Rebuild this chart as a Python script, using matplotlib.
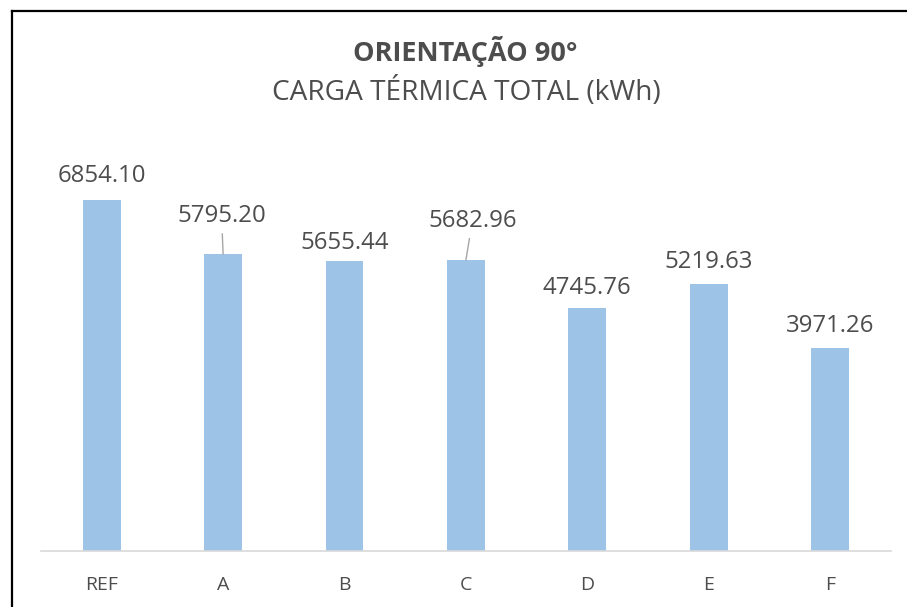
import matplotlib

matplotlib.use("Agg")
import matplotlib.pyplot as plt
from matplotlib.lines import Line2D

categories = ["REF", "A", "B", "C", "D", "E", "F"]
carga_kwh = [6854.10, 5795.20, 5655.44, 5682.96, 4745.76, 5219.63, 3971.26]

BAR_COLOR = "#9DC3E6"
TEXT_COLOR = "#4D4D4D"
LEADER_COLOR = "#A6A6A6"
AXIS_COLOR = "#D9D9D9"

# label offsets in pixels (dx, gap between bar top and text baseline)
label_offsets = [(0, 18), (-1.5, 32), (0, 12), (6.5, 33), (0, 14), (0, 16), (0, 16)]
leaders = [False, True, False, True, False, False, False]

plt.rcParams["font.family"] = ["Open Sans", "DejaVu Sans"]

W, H = 907, 607
fig = plt.figure(figsize=(W / 100, H / 100), dpi=100)
ax = fig.add_axes([41 / W, (H - 551) / H, 849.8 / W, 409.7 / H])

positions = range(len(categories))
ax.bar(positions, carga_kwh, width=0.313, color=BAR_COLOR, zorder=2)

px = 72 / 100  # pixels -> points
for i, value in enumerate(carga_kwh):
    dx, dy = label_offsets[i]
    arrow = None
    if leaders[i]:
        arrow = dict(arrowstyle="-", color=LEADER_COLOR, lw=1.0, shrinkA=2, shrinkB=0)
    ax.annotate(
        f"{value:.2f}",
        xy=(i, value),
        xytext=(dx * px, dy * px),
        textcoords="offset points",
        ha="center",
        va="baseline",
        fontsize=17.3,
        color=TEXT_COLOR,
        arrowprops=arrow,
    )

ax.set_xlim(-0.5, len(categories) - 0.5)
ax.set_ylim(0, 8000)
ax.set_xticks(list(positions))
ax.set_xticklabels(categories, fontsize=14, color=TEXT_COLOR)
ax.tick_params(axis="x", length=0, pad=18)
ax.set_yticks([])
for side in ["top", "right", "left"]:
    ax.spines[side].set_visible(False)
ax.spines["bottom"].set_color(AXIS_COLOR)
ax.spines["bottom"].set_linewidth(1.2)
ax.set_facecolor("none")

fig.text(465.5 / W, 1 - 60.7 / H, "ORIENTAÇÃO 90°", ha="center", va="baseline",
         fontsize=19.5, fontweight="bold", color=TEXT_COLOR)
fig.text(466 / W, 1 - 100 / H, "CARGA TÉRMICA TOTAL (kWh)", ha="center", va="baseline",
         fontsize=20.2, color=TEXT_COLOR)

# outer frame (left and top edges visible)
fig.add_artist(Line2D([11.5 / W, 11.5 / W], [0, 1 - 10.5 / H], transform=fig.transFigure,
                      color="black", lw=1.6))
fig.add_artist(Line2D([11.5 / W, 1], [1 - 10.5 / H, 1 - 10.5 / H], transform=fig.transFigure,
                      color="black", lw=1.6))

fig.savefig("out.png", dpi=100)
